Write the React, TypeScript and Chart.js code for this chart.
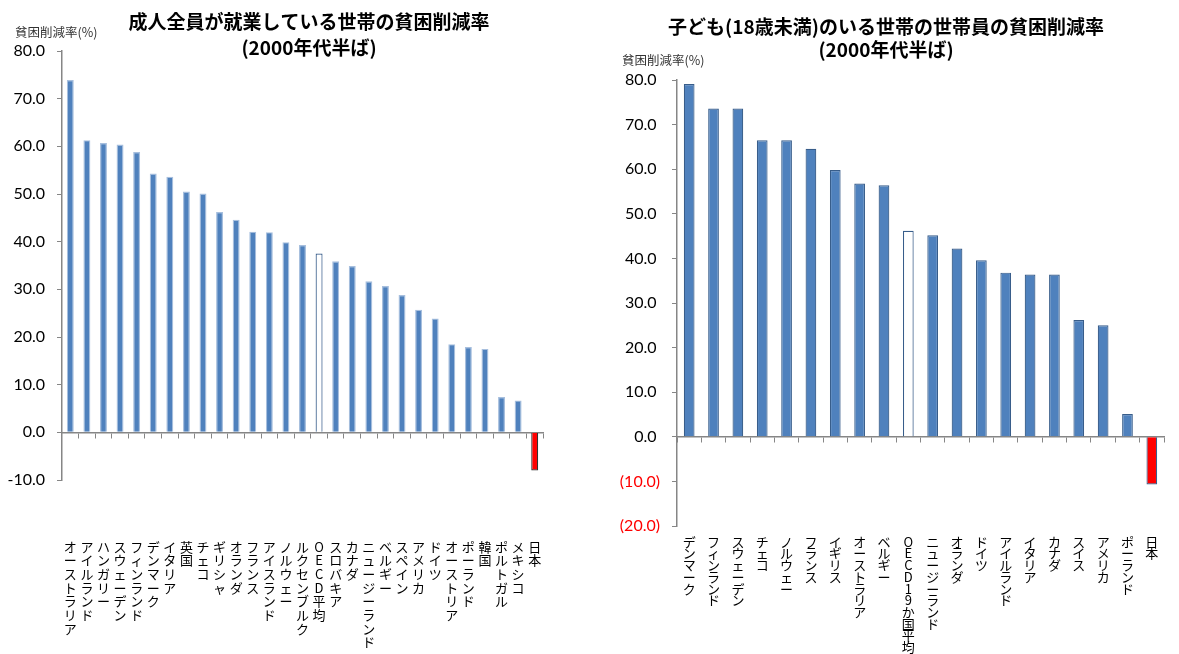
import React, { useEffect, useRef } from "react";
import { Chart, registerables } from "chart.js";

Chart.register(...registerables);

// ---------- data ----------
const leftCategories = [
  "オーストラリア", "アイルランド", "ハンガリー", "スウェーデン", "フィンランド",
  "デンマーク", "イタリア", "英国", "チェコ", "ギリシャ", "オランダ", "フランス",
  "アイスランド", "ノルウェー", "ルクセンブルク", "OECD平均", "スロバキア", "カナダ",
  "ニュージーランド", "ベルギー", "スペイン", "アメリカ", "ドイツ", "オーストリア",
  "ポーランド", "韓国", "ポルトガル", "メキシコ", "日本",
];
const leftValues = [
  73.9, 61.3, 60.7, 60.4, 58.8, 54.3, 53.6, 50.5, 50.1, 46.2, 44.6, 42.1,
  42.0, 39.9, 39.3, 37.5, 35.9, 34.9, 31.7, 30.7, 28.8, 25.7, 23.9, 18.5,
  17.9, 17.5, 7.4, 6.7, -8.0,
];
const rightCategories = [
  "デンマーク", "フィンランド", "スウェーデン", "チェコ", "ノルウェー", "フランス",
  "イギリス", "オーストラリア", "ベルギー", "OECD19か国平均", "ニュージーランド",
  "オランダ", "ドイツ", "アイルランド", "イタリア", "カナダ", "スイス", "アメリカ",
  "ポーランド", "日本",
];
const rightValues = [
  79.1, 73.6, 73.6, 66.5, 66.5, 64.6, 59.8, 56.8, 56.4, 46.2, 45.2, 42.2,
  39.6, 36.8, 36.4, 36.4, 26.2, 25.0, 5.1, -10.7,
];
const leftTitle = ["成人全員が就業している世帯の貧困削減率", "(2000年代半ば)"];
const rightTitle = ["子ども(18歳未満)のいる世帯の世帯員の貧困削減率", "(2000年代半ば)"];
const axisCaption = "貧困削減率(%)";
const leftRange = [-10, 80];
const rightRange = [-20, 80];
const tickStep = 10;

// ---------- styles ----------
const BLUE = "#4F81BD";
const GRAY = "#868686";
const CJK = "'Noto Sans CJK JP', 'Noto Sans CJK SC', sans-serif";
const NUM = "Lato, 'Open Sans', sans-serif";

type Panel = {
  left: number;
  width: number;
  categories: string[];
  values: number[];
  range: number[];
  title: string[];
  titleX: number;
  titleY: number[];
  capX: number;
  capY: number;
  yWidth: number;
  padTop: number;
  padRight: number;
  xHeight: number;
  xPad: number;
  labelSize: number;
  labelLH: number;
  barPct: number;
  blueBorder: string;
  japanBorder: string;
  paren: boolean;
};

function BarPanel({ p }: { p: Panel }) {
  const ref = useRef<HTMLCanvasElement | null>(null);
  useEffect(() => {
    if (!ref.current) return;
    const overlay = {
      id: "overlay",
      afterDraw(chart: any) {
        const ctx = chart.ctx;
        ctx.save();
        ctx.fillStyle = "#000";
        ctx.textAlign = "center";
        ctx.textBaseline = "middle";
        ctx.font = `bold 19px ${CJK}`;
        p.title.forEach((t, i) => ctx.fillText(t, p.titleX, p.titleY[i]));
        ctx.textAlign = "left";
        ctx.font = `12.5px ${CJK}`;
        ctx.fillStyle = "#333";
        ctx.fillText(axisCaption, p.capX, p.capY);
        ctx.restore();
      },
    };
    const colors = p.categories.map((c) =>
      c === "日本" ? "#FF0000" : c.startsWith("OECD") ? "#FFFFFF" : BLUE
    );
    const borders = p.categories.map((c) =>
      c === "日本" ? p.japanBorder : c.startsWith("OECD") ? "#385D8A" : p.blueBorder
    );
    const chart = new Chart(ref.current, {
      type: "bar",
      data: {
        labels: p.categories.map((c) => Array.from(c)),
        datasets: [
          {
            data: p.values,
            backgroundColor: colors,
            borderColor: borders,
            borderWidth: 1.2,
            barPercentage: p.barPct,
            categoryPercentage: 1,
          },
        ],
      },
      options: {
        responsive: false,
        animation: false,
        layout: { padding: { top: p.padTop, right: p.padRight, left: 0, bottom: 0 } },
        plugins: {
          legend: { display: false },
          tooltip: { enabled: false },
          title: { display: false },
        },
        scales: {
          x: {
            type: "category",
            grid: { display: false, drawTicks: false },
            border: { display: false },
            ticks: {
              autoSkip: false,
              maxRotation: 0,
              minRotation: 0,
              padding: p.xPad,
              color: "#000",
              font: { family: CJK, size: p.labelSize, lineHeight: p.labelLH },
            },
            afterFit: (s: any) => {
              s.height = p.xHeight;
              s.paddingLeft = 0;
              s.paddingRight = 0;
            },
          },
          x2: {
            type: "category",
            axis: "x",
            position: { y: 0 } as any,
            offset: true,
            z: 1,
            grid: {
              offset: true,
              drawOnChartArea: false,
              drawTicks: true,
              tickLength: 5,
              color: GRAY,
              lineWidth: 1,
            },
            border: { display: true, color: GRAY, width: 1.5 },
            ticks: { display: false },
            afterFit: (s: any) => {
              s.paddingLeft = 0;
              s.paddingRight = 0;
            },
          } as any,
          y: {
            min: p.range[0],
            max: p.range[1],
            grid: { drawOnChartArea: false, tickLength: 5, color: GRAY, lineWidth: 1 },
            border: { display: true, color: GRAY, width: 1.5 },
            ticks: {
              stepSize: tickStep,
              padding: 12,
              font: { family: NUM, size: 16 },
              color: (c: any) => (p.paren && c.tick && c.tick.value < 0 ? "#FF0000" : "#000"),
              callback: (v: any) => {
                const n = Number(v);
                if (p.paren) return n < 0 ? `(${Math.abs(n).toFixed(1)})` : n.toFixed(1) + "\u2008";
                return n.toFixed(1);
              },
            },
            afterFit: (s: any) => {
              s.width = p.yWidth;
            },
          },
        },
      },
      plugins: [overlay],
    } as any);
    return () => chart.destroy();
  }, []);
  return (
    <div style={{ position: "absolute", left: p.left, top: 0, width: p.width, height: 654 }}>
      <canvas ref={ref} width={p.width} height={654} style={{ display: "block" }} />
    </div>
  );
}

const leftPanel: Panel = {
  left: 0,
  width: 590,
  categories: leftCategories,
  values: leftValues,
  range: leftRange,
  title: leftTitle,
  titleX: 309,
  titleY: [22, 48],
  capX: 15,
  capY: 32,
  yWidth: 62,
  padTop: 51,
  padRight: 47,
  xHeight: 174,
  xPad: 60,
  labelSize: 13,
  labelLH: 1.05,
  barPct: 0.42,
  blueBorder: "#A7BFDE",
  japanBorder: "#333333",
  paren: false,
};

const rightPanel: Panel = {
  left: 590,
  width: 589,
  categories: rightCategories,
  values: rightValues,
  range: rightRange,
  title: rightTitle,
  titleX: 296,
  titleY: [27, 50],
  capX: 32,
  capY: 60,
  yWidth: 87,
  padTop: 80,
  padRight: 15,
  xHeight: 128,
  xPad: 10,
  labelSize: 13,
  labelLH: 0.9,
  barPct: 0.44,
  blueBorder: "#385D8A",
  japanBorder: "#385D8A",
  paren: true,
};

export default function App() {
  return (
    <div
      style={{
        position: "fixed",
        left: 0,
        top: 0,
        width: 1179,
        height: 654,
        background: "#fff",
        overflow: "hidden",
      }}
    >
      <BarPanel p={leftPanel} />
      <BarPanel p={rightPanel} />
    </div>
  );
}
